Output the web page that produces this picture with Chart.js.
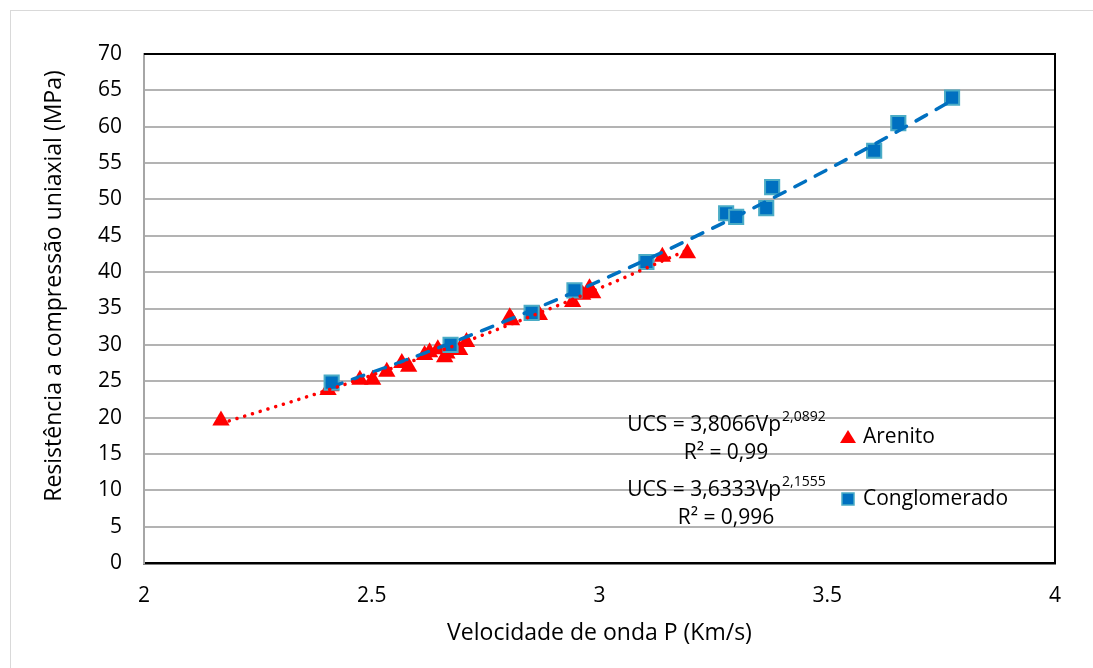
<!DOCTYPE html>
<html>
<head>
<meta charset="utf-8">
<script src="https://cdn.jsdelivr.net/npm/chart.js@4.4.1/dist/chart.umd.min.js"></script>
<style>
  html, body { margin: 0; padding: 0; background: #fff; }
  #wrap { width: 1093px; height: 668px; position: relative; }
</style>
</head>
<body>
<div id="wrap"><canvas id="chart" width="1093" height="668"></canvas></div>
<script>
// measured points
const arenitoVp = [2.169, 2.404, 2.410, 2.474, 2.502, 2.533, 2.566, 2.581, 2.616, 2.627, 2.645, 2.660, 2.665, 2.693, 2.708,
  2.803, 2.807, 2.868, 2.941, 2.963, 2.978, 2.985, 3.138, 3.193];
const arenitoUcs = [19.6, 23.8, 24.3, 25.2, 25.2, 26.3, 27.5, 27.0, 28.6, 29.0, 29.4, 28.3, 28.8, 29.3, 30.4,
  33.8, 33.4, 34.1, 35.9, 36.9, 37.8, 37.1, 42.1, 42.6];

const conglVp = [2.412, 2.673, 2.851, 2.945, 3.103, 3.278, 3.300, 3.366, 3.379, 3.603, 3.656, 3.774];
const conglUcs = [24.8, 30.0, 34.4, 37.5, 41.4, 48.1, 47.6, 48.8, 51.7, 56.7, 60.5, 64.0];

// points along the power trendlines
const arenitoTrendVp = [2.17, 2.4, 2.6, 2.8, 3.0, 3.19];
const arenitoTrendUcs = [19.21, 23.71, 28.02, 32.71, 37.79, 42.96];
const conglTrendVp = [2.41, 2.6, 2.8, 3.0, 3.2, 3.4, 3.6, 3.77];
const conglTrendUcs = [24.19, 28.50, 33.43, 38.79, 44.58, 50.81, 57.47, 63.47];

const xTicks = [2, 2.5, 3, 3.5, 4];

const seriesNames = ['Arenito', 'Conglomerado'];
const yTitle = 'Resistência a compressão uniaxial (MPa)';
const xTitle = 'Velocidade de onda P (Km/s)';
const equations = [
  { base: 'UCS = 3,8066Vp', exp: '2,0892', r2: '0,99' },
  { base: 'UCS = 3,6333Vp', exp: '2,1555', r2: '0,996' }
];

const FONT = '"Open Sans", sans-serif';
const RED = '#ff0000';
const BLUE = '#0070c0';
const BLUE_EDGE = '#4bacc6';

const toXY = (xs, ys) => xs.map((x, i) => ({ x: x, y: ys[i] }));

const frame = {
  id: 'frame',
  beforeDraw(chart) {
    const ctx = chart.ctx;
    ctx.save();
    ctx.strokeStyle = '#d9d9d9';
    ctx.lineWidth = 1;
    ctx.strokeRect(10.5, 10.5, 1100, 700);
    ctx.restore();
  },
  afterDatasetsDraw(chart) {
    const ctx = chart.ctx;
    const a = chart.chartArea;
    ctx.save();
    ctx.strokeStyle = '#000';
    ctx.lineWidth = 2;
    ctx.beginPath();
    ctx.moveTo(a.left, a.top);
    ctx.lineTo(a.right, a.top);
    ctx.lineTo(a.right, a.bottom);
    ctx.stroke();
    ctx.restore();
  },
  afterDraw(chart) {
    const ctx = chart.ctx;
    ctx.save();
    // y axis title, sits a bit above the plot centre like the original
    ctx.save();
    ctx.translate(61, 286);
    ctx.rotate(-Math.PI / 2);
    ctx.font = '23px ' + FONT;
    ctx.fillStyle = '#000';
    ctx.textAlign = 'center';
    ctx.textBaseline = 'alphabetic';
    ctx.fillText(yTitle, 0, 0);
    ctx.restore();

    ctx.fillStyle = '#000';
    ctx.textBaseline = 'middle';
    const rows = [425, 490];
    equations.forEach((eq, i) => {
      const y = rows[i];
      ctx.font = '21px ' + FONT;
      const wBase = ctx.measureText(eq.base).width;
      ctx.font = '14px ' + FONT;
      const wExp = ctx.measureText(eq.exp).width;
      const cx = 726;
      const x0 = cx - (wBase + wExp) / 2;
      ctx.textAlign = 'left';
      ctx.font = '21px ' + FONT;
      ctx.fillText(eq.base, x0, y);
      ctx.font = '14px ' + FONT;
      ctx.fillText(eq.exp, x0 + wBase + 1, y - 8);
      ctx.font = '21px ' + FONT;
      ctx.textAlign = 'center';
      ctx.fillText('R² = ' + eq.r2, cx, y + 28);
    });
    // legend
    const legY = [437, 499];
    ctx.textAlign = 'left';
    ctx.font = '21px ' + FONT;
    ctx.fillStyle = RED;
    ctx.beginPath();
    ctx.moveTo(848, legY[0] - 7);
    ctx.lineTo(856, legY[0] + 6);
    ctx.lineTo(840, legY[0] + 6);
    ctx.closePath();
    ctx.fill();
    ctx.fillStyle = BLUE;
    ctx.fillRect(842, legY[1] - 6, 12, 12);
    ctx.strokeStyle = BLUE_EDGE;
    ctx.lineWidth = 1.5;
    ctx.strokeRect(842, legY[1] - 6, 12, 12);
    ctx.fillStyle = '#000';
    ctx.fillText(seriesNames[0], 863, legY[0]);
    ctx.fillText(seriesNames[1], 863, legY[1]);
    ctx.restore();
  }
};

new Chart(document.getElementById('chart'), {
  type: 'scatter',
  data: {
    datasets: [
      {
        label: seriesNames[0] + ' trend',
        type: 'line',
        data: toXY(arenitoTrendVp, arenitoTrendUcs),
        borderColor: RED,
        borderWidth: 3.5,
        borderDash: [0.1, 8],
        borderCapStyle: 'round',
        pointRadius: 0,
        cubicInterpolationMode: 'monotone',
        fill: false,
        order: 0
      },
      {
        label: seriesNames[1] + ' trend',
        type: 'line',
        data: toXY(conglTrendVp, conglTrendUcs),
        borderColor: BLUE,
        borderWidth: 3.5,
        borderDash: [12, 11],
        borderCapStyle: 'round',
        pointRadius: 0,
        cubicInterpolationMode: 'monotone',
        fill: false,
        order: 0
      },
      {
        label: seriesNames[0],
        data: toXY(arenitoVp, arenitoUcs),
        pointStyle: 'triangle',
        pointRadius: 10,
        pointHoverRadius: 10,
        backgroundColor: RED,
        borderColor: RED,
        borderWidth: 0,
        order: 2
      },
      {
        label: seriesNames[1],
        data: toXY(conglVp, conglUcs),
        pointStyle: 'rect',
        pointRadius: 10,
        pointHoverRadius: 10,
        backgroundColor: BLUE,
        borderColor: BLUE_EDGE,
        borderWidth: 2,
        order: 1
      }
    ]
  },
  options: {
    responsive: false,
    animation: false,
    layout: { padding: { left: 10, top: 54, right: 38, bottom: 21 } },
    plugins: {
      legend: { display: false },
      tooltip: { enabled: false }
    },
    scales: {
      x: {
        type: 'linear',
        min: 2,
        max: 4,
        afterBuildTicks(scale) { scale.ticks = xTicks.map(v => ({ value: v })); },
        afterFit(scale) { scale.height = 84; },
        ticks: {
          padding: 20,
          color: '#000',
          font: { family: FONT, size: 21 },
          callback: v => String(v),
          maxRotation: 0
        },
        grid: { display: false, drawTicks: false },
        border: { display: true, color: '#000', width: 2.5 },
        title: {
          display: true,
          text: xTitle,
          color: '#000',
          font: { family: FONT, size: 23 },
          padding: { top: 6, bottom: 0 }
        }
      },
      y: {
        min: 0,
        max: 70,
        afterFit(scale) { scale.width = 134; },
        ticks: {
          stepSize: 5,
          padding: 22,
          color: '#000',
          font: { family: FONT, size: 21 }
        },
        grid: { color: '#b3b3b3', lineWidth: 2, drawTicks: false },
        border: { display: true, color: '#a6a6a6', width: 2 },
        title: { display: false }
      }
    }
  },
  plugins: [frame]
});
</script>
</body>
</html>
